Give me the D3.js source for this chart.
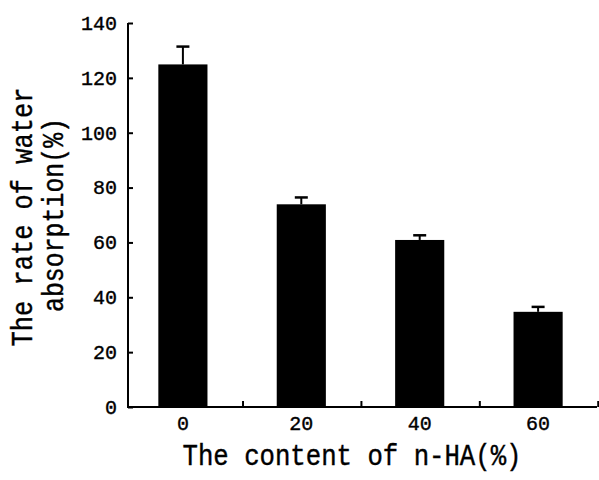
<!DOCTYPE html>
<meta charset="utf-8" />
<style>
  body { margin: 0; background: #fff; }
  text { font-family: "Liberation Mono", "DejaVu Sans Mono", monospace; fill: #000; stroke: #000; stroke-width: 0.4px; }
  .tick text { font-size: 20px; }
  .title { font-size: 29px; }
</style>
<body>
<script src="https://d3js.org/d3.v7.min.js"></script>
<script>
  // n-HA content (%) and water absorption rate (%)
  var contents = ["0", "20", "40", "60"];
  var absorption = [124.9, 73.9, 60.9, 34.7];
  var errors = [6.5, 2.5, 1.7, 1.8];
  var yTicks = [0, 20, 40, 60, 80, 100, 120, 140];

  var data = contents.map(function (c, i) {
    return { content: c, value: absorption[i], err: errors[i] };
  });

  var width = 599, height = 480;
  var axisLeft = 128, axisRight = 597, axisTop = 23, axisBottom = 407;

  var svg = d3.select("body").append("svg")
    .attr("width", width)
    .attr("height", height);

  var x = d3.scaleBand()
    .domain(contents)
    .range([124, axisRight])
    .paddingInner(0.585)
    .paddingOuter(0.29);

  var step = (axisRight - 124) / contents.length;

  var y = d3.scaleLinear().domain([0, 140]).range([axisBottom, axisTop]);

  // bars
  svg.selectAll(".bar")
    .data(data)
    .enter()
    .append("rect")
    .attr("class", "bar")
    .attr("x", function (d) { return x(d.content); })
    .attr("width", x.bandwidth())
    .attr("y", function (d) { return y(d.value); })
    .attr("height", function (d) { return y(0) - y(d.value); })
    .attr("fill", "#000");

  // error bars (upper half only)
  var eb = svg.selectAll(".err")
    .data(data)
    .enter()
    .append("g")
    .attr("class", "err")
    .attr("stroke", "#000")
    .attr("stroke-width", 2);
  eb.append("line")
    .attr("x1", function (d) { return x(d.content) + x.bandwidth() / 2; })
    .attr("x2", function (d) { return x(d.content) + x.bandwidth() / 2; })
    .attr("y1", function (d) { return y(d.value); })
    .attr("y2", function (d) { return y(d.value + d.err); });
  eb.append("line")
    .attr("x1", function (d) { return x(d.content) + x.bandwidth() / 2 - 6.5; })
    .attr("x2", function (d) { return x(d.content) + x.bandwidth() / 2 + 6.5; })
    .attr("y1", function (d) { return y(d.value + d.err); })
    .attr("y2", function (d) { return y(d.value + d.err); })
    .attr("stroke-width", 2.5);

  // y axis, ticks pointing inward
  var yAxis = svg.append("g")
    .attr("transform", "translate(" + axisLeft + ",0)")
    .call(d3.axisRight(y).tickValues(yTicks).tickSize(5));
  yAxis.select(".domain").attr("stroke-width", 2).attr("d", "M0," + axisTop + "V" + axisBottom);
  yAxis.selectAll(".tick line").attr("stroke-width", 2);
  yAxis.selectAll(".tick text").attr("text-anchor", "end").attr("x", -11);

  // x axis line with inward ticks at the category boundaries
  svg.append("line")
    .attr("x1", axisLeft - 1).attr("x2", axisRight)
    .attr("y1", axisBottom).attr("y2", axisBottom)
    .attr("stroke", "#000").attr("stroke-width", 2);
  svg.selectAll(".xtick")
    .data(contents)
    .enter()
    .append("line")
    .attr("class", "xtick")
    .attr("x1", function (d) { return x(d) + x.bandwidth() / 2 + step / 2 + 1; })
    .attr("x2", function (d) { return x(d) + x.bandwidth() / 2 + step / 2 + 1; })
    .attr("y1", axisBottom)
    .attr("y2", axisBottom - 6)
    .attr("stroke", "#000").attr("stroke-width", 2);

  // x tick labels under the bars
  svg.selectAll(".xlabel")
    .data(contents)
    .enter()
    .append("text")
    .attr("class", "xlabel")
    .attr("x", function (d) { return x(d) + x.bandwidth() / 2; })
    .attr("y", 430)
    .attr("text-anchor", "middle")
    .style("font-size", "20px")
    .text(function (d) { return d; });

  // axis titles
  svg.append("text")
    .attr("class", "title")
    .attr("x", 352)
    .attr("y", 465)
    .attr("text-anchor", "middle")
    .attr("textLength", 339)
    .attr("lengthAdjust", "spacingAndGlyphs")
    .text("The content of n-HA(%)");

  svg.append("text")
    .attr("class", "title")
    .attr("transform", "translate(32,217) rotate(-90)")
    .attr("text-anchor", "middle")
    .attr("textLength", 259)
    .attr("lengthAdjust", "spacingAndGlyphs")
    .text("The rate of water");

  svg.append("text")
    .attr("class", "title")
    .attr("transform", "translate(63,215) rotate(-90)")
    .attr("text-anchor", "middle")
    .attr("textLength", 194)
    .attr("lengthAdjust", "spacingAndGlyphs")
    .text("absorption(%)");
</script>
</body>
